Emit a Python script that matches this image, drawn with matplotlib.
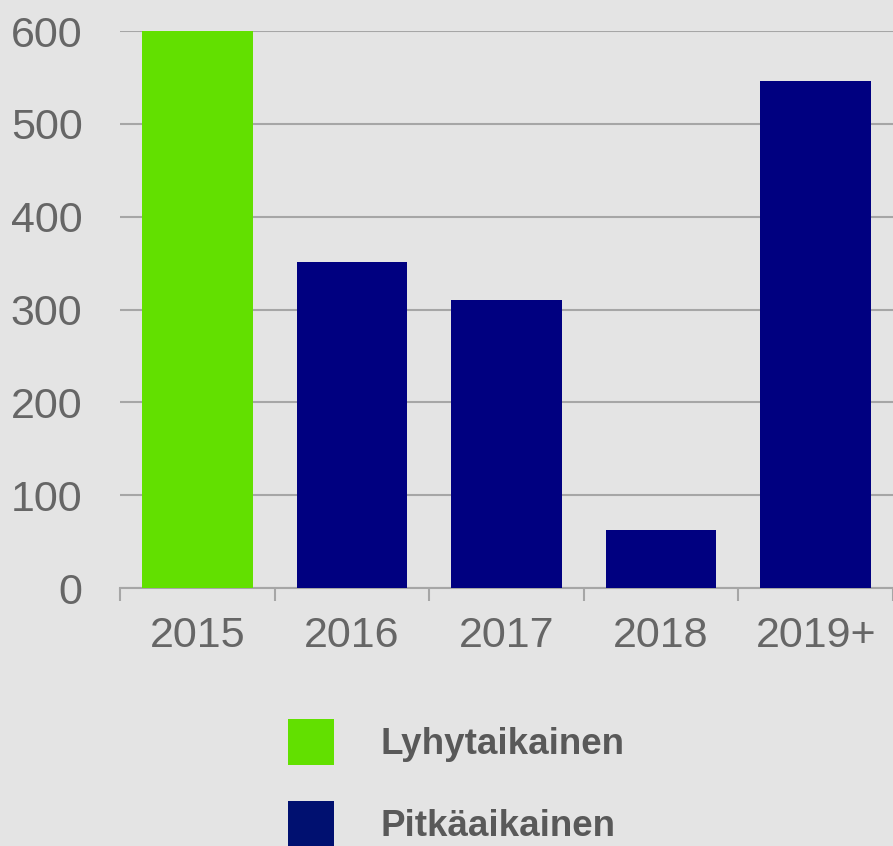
import matplotlib
matplotlib.use("Agg")
import matplotlib.pyplot as plt
from matplotlib.patches import Patch

# chart data
years = ["2015", "2016", "2017", "2018", "2019+"]
values = [600, 351, 310, 63, 546]
bar_kind = ["Lyhytaikainen", "Pitkäaikainen", "Pitkäaikainen", "Pitkäaikainen", "Pitkäaikainen"]
y_ticks = [0, 100, 200, 300, 400, 500, 600]

colors = {"Lyhytaikainen": "#62e000", "Pitkäaikainen": "#000080"}
legend_colors = {"Lyhytaikainen": "#62e000", "Pitkäaikainen": "#001070"}
bg = "#e4e4e4"

plt.rcParams["font.family"] = ["Liberation Sans", "DejaVu Sans"]

fig = plt.figure(figsize=(8.93, 8.46), dpi=100, facecolor=bg)
ax = fig.add_axes([120 / 893, 1 - 588 / 846, 1 - 120 / 893, (588 - 31) / 846])
ax.set_facecolor(bg)

x = list(range(len(years)))
ax.bar(x, values, width=0.715, color=[colors[k] for k in bar_kind], zorder=3)

ax.set_ylim(0, 600)
ax.set_xlim(-0.5, 4.471)
ax.set_yticks(y_ticks)
ax.yaxis.grid(True, color="#a6a6a6", linewidth=1.5, zorder=0)
ax.tick_params(axis="y", length=0, pad=27, labelsize=31, labelcolor="#666666")

ax.set_xticks(x)
ax.set_xticklabels(years)
ax.tick_params(axis="x", which="major", length=0, pad=20, labelsize=31, labelcolor="#666666")
ax.set_xticks([i - 0.5 for i in range(len(years) + 1)], minor=True)
ax.tick_params(axis="x", which="minor", length=9, width=1.5, color="#a6a6a6", direction="out")

for side in ["top", "right", "left"]:
    ax.spines[side].set_visible(False)
ax.spines["bottom"].set_color("#a6a6a6")
ax.spines["bottom"].set_linewidth(1.5)

# legend below the plot
handles = [Patch(facecolor=legend_colors[k], edgecolor="none", label=k) for k in ["Lyhytaikainen", "Pitkäaikainen"]]
fig.legend(
    handles=handles,
    loc="upper left",
    bbox_to_anchor=(288 / 893, 1 - 719 / 846),
    frameon=False,
    borderpad=0,
    borderaxespad=0,
    handlelength=1.25,
    handleheight=1.546,
    handletextpad=1.25,
    labelspacing=0.98,
    prop={"size": 26.5, "weight": "bold"},
    labelcolor="#595959",
)

fig.savefig("out.png", dpi=100, facecolor=bg)
